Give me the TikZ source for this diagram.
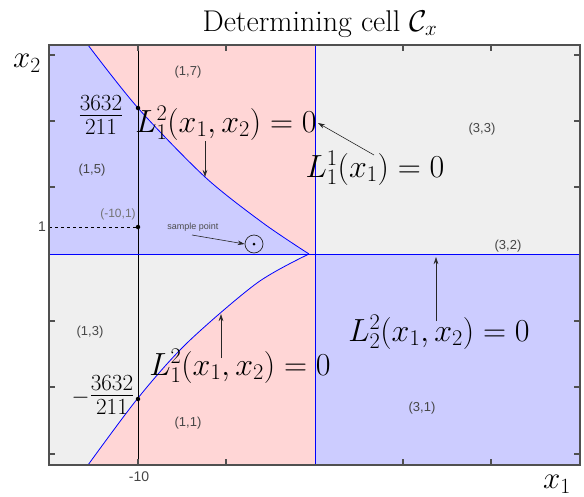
\RequirePackage{fix-cm}
\documentclass[tikz,border=0pt]{standalone}
\usepackage{amsmath}
\usepackage{fontspec}
\setsansfont{Liberation Sans}
\usetikzlibrary{arrows.meta}
\definecolor{pinkc}{RGB}{255,214,214}
\definecolor{bluec}{RGB}{204,204,255}
\definecolor{grayc}{RGB}{239,239,239}
\definecolor{framec}{RGB}{80,80,80}
\definecolor{labc}{RGB}{70,70,70}
\begin{document}
\begin{tikzpicture}[x=1pt,y=-1pt,
  frame/.style={draw=framec, line width=1.4pt},
  blueline/.style={draw=blue, line width=1pt},
  curve/.style={draw=blue, line width=0.8pt},
  arr/.style={draw=black!85, line width=0.6pt, -{Stealth[length=7pt,width=4.5pt]}},
  mathlab/.style={font=\fontsize{32}{36}\selectfont, inner sep=0pt},
  axlab/.style={font=\fontsize{31}{35}\selectfont, inner sep=0pt},
  fraclab/.style={font=\fontsize{33}{37}\selectfont, inner sep=0pt},
  cell/.style={font=\sffamily\fontsize{13}{15}\selectfont, text=labc, inner sep=0pt},
  ticklab/.style={font=\sffamily\fontsize{14}{16}\selectfont, text=labc, inner sep=0pt},
  note/.style={font=\sffamily\fontsize{12}{14}\selectfont, text=black!55, inner sep=0pt},
  tiny/.style={font=\sffamily\fontsize{9}{10}\selectfont, text=black!70, inner sep=0pt},
  dot/.style={circle, fill=black, inner sep=0pt, minimum size=4.5pt}]
\useasboundingbox (0,0) rectangle (584,496);
% regions
\fill[pinkc] (49,45) rectangle (315,465);
\fill[bluec] (49,45) -- plot[smooth] coordinates {(88,45) (138,108) (205,177) (263,223) (309,254)} -- (49,254) -- cycle;
\fill[grayc] (49,254) -- plot[smooth] coordinates {(309,254) (257,283) (187,343) (138,398) (88,465)} -- (49,465) -- cycle;
\fill[grayc] (315,45) rectangle (580,254);
\fill[bluec] (315,254) rectangle (580,465);
% curves
\draw[curve] plot[smooth] coordinates {(88,45) (138,108) (205,177) (263,223) (309,254)};
\draw[curve] plot[smooth] coordinates {(309,254) (257,283) (187,343) (138,398) (88,465)};
% lines
\draw[black, line width=0.9pt] (138,45) -- (138,465);
\draw[blueline] (315,45) -- (315,465);
\draw[blueline] (49,254) -- (580,254);
\draw[black, line width=0.6pt, dashed] (49,227) -- (138,227);
% frame and ticks
\draw[frame] (49,45) rectangle (580,465);
\foreach \yy in {55,121,187,321,387,454} {
  \draw[framec, line width=1.2pt] (49,\yy) -- (55,\yy);
  \draw[framec, line width=1.2pt] (580,\yy) -- (574,\yy);
}
\foreach \xx in {138,226,403,491} {
  \draw[framec, line width=1.2pt] (\xx,45) -- (\xx,51);
  \draw[framec, line width=1.2pt] (\xx,465) -- (\xx,459);
}
% title and axis labels
\node[font=\fontsize{30}{34}\selectfont, anchor=base] (title) at (320,31) {Determining cell $\mathcal{C}_x$};
\node[axlab] (xtwo) at (27,63) {$x_2$};
\node[axlab] (xone) at (557,484) {$x_1$};
\node[ticklab] (tmten) at (139,477) {-10};
\node[ticklab] (tone) at (42,227) {1};
% dots
\node[dot] (d1) at (138,108) {};
\node[dot] (d2) at (138,227) {};
\node[dot] (d3) at (138,399) {};
% fractions
\node[fraclab] (fup) at (101,115) {$\frac{3632}{211}$};
\node[fraclab] (flo) at (103,395) {$\scriptstyle -\textstyle\frac{3632}{211}$};
% cell labels
\node[cell] (c17) at (188,72) {(1,7)};
\node[cell] (c15) at (92,170) {(1,5)};
\node[cell] (c13) at (90,332) {(1,3)};
\node[cell] (c11) at (188,423) {(1,1)};
\node[cell] (c33) at (482,129) {(3,3)};
\node[cell] (c32) at (508,246) {(3,2)};
\node[cell] (c31) at (422,408) {(3,1)};
\node[note] (pt) at (118,214) {(-10,1)};
\node[tiny] (sp) at (193,227) {sample point};
% sample point
\node[circle, draw=black!85, line width=0.7pt, minimum size=18pt, inner sep=0pt] (samp) at (254,244) {};
\node[circle, fill=black, inner sep=0pt, minimum size=3pt] (sampc) at (254,244) {};
\coordinate (sps) at (192,235);
\draw[arr] (sps) -- (samp.west);
% equation labels and arrows
\coordinate (a1s) at (205,141); \coordinate (a1e) at (205,177);
\draw[arr] (a1s) -- (a1e);
\coordinate (a2s) at (374,155); \coordinate (a2e) at (318,123);
\draw[arr] (a2s) -- (a2e);
\coordinate (a3s) at (436,321); \coordinate (a3e) at (436,257);
\draw[arr] (a3s) -- (a3e);
\coordinate (a4s) at (221,358); \coordinate (a4e) at (221,314);
\draw[arr] (a4s) -- (a4e);
\node[mathlab] (lup) at (226,123) {$L_1^2(x_1,x_2)=0$};
\node[mathlab] (lmid) at (375,168) {$L_1^1(x_1)=0$};
\node[mathlab] (lright) at (439,332) {$L_2^2(x_1,x_2)=0$};
\node[mathlab] (llow) at (240,366) {$L_1^2(x_1,x_2)=0$};
\end{tikzpicture}
\end{document}
